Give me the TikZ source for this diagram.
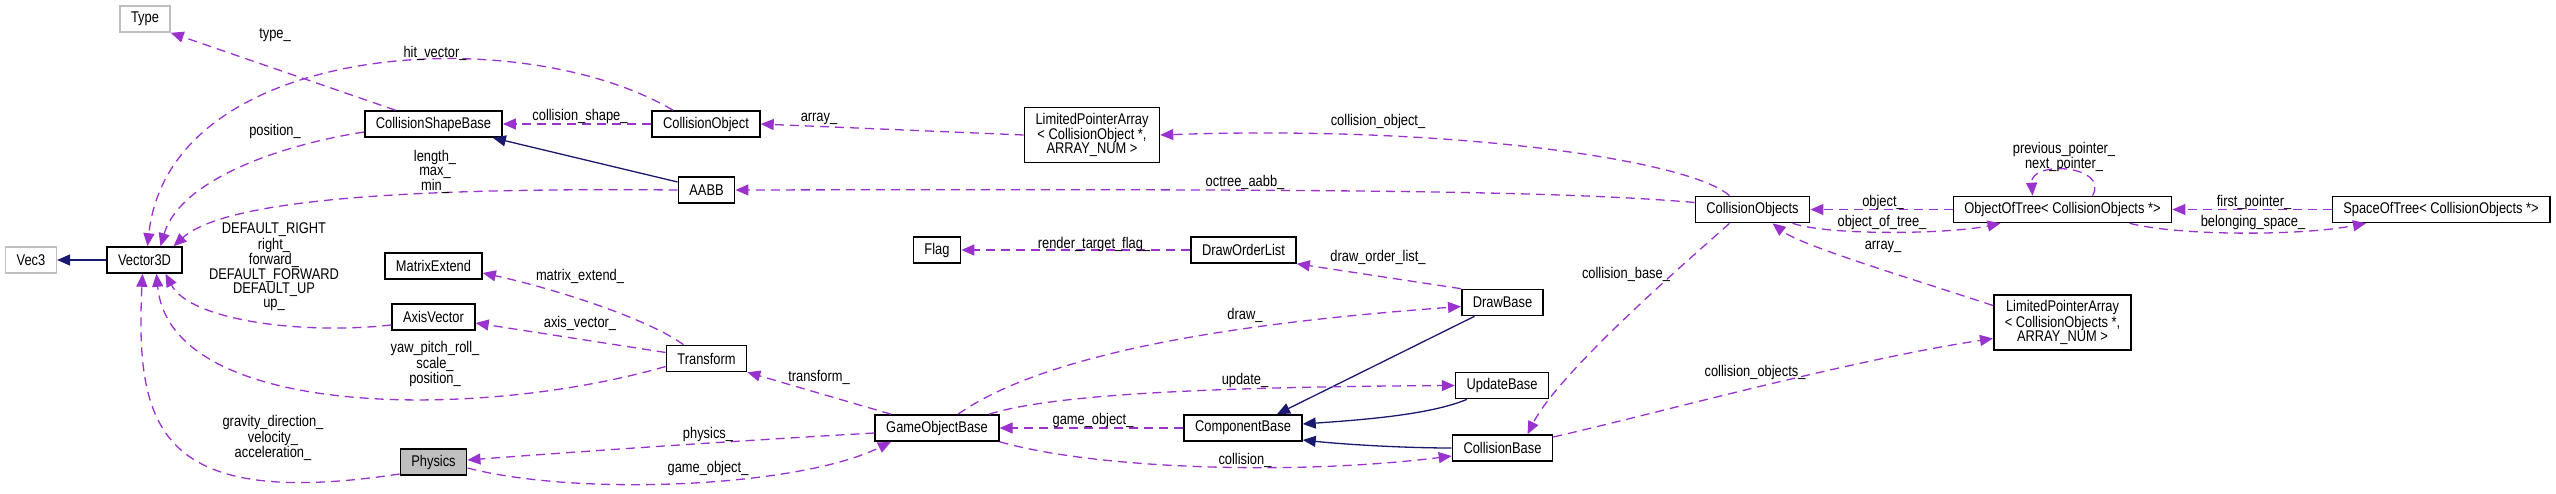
\documentclass[tikz,border=0pt]{standalone}
\usepackage{fontspec}
\setmainfont{Liberation Sans}[FakeStretch=0.83]
\usetikzlibrary{arrows.meta}
\definecolor{memberpurple}{HTML}{9A32CD}
\definecolor{inheritblue}{HTML}{191970}
\definecolor{extgrey}{HTML}{BFBFBF}

\begin{document}
\begin{tikzpicture}[x=1pt, y=-1pt,
    font=\fontsize{15.5}{14.3}\selectfont,
    cls/.style={rectangle, draw=black, line width=1.6pt, fill=white, inner xsep=11pt, inner ysep=2pt,
        minimum height=26pt, align=center},
    ext/.style={cls, draw=extgrey},
    tall/.style={cls, minimum height=55pt},
    member/.style={-{Triangle[length=13pt,width=11pt]}, line width=1.3pt, memberpurple, dash pattern=on 9pt off 6pt},
    inherit/.style={-{Triangle[length=13pt,width=11pt]}, line width=1.3pt, inheritblue},
    lbl/.style={inner sep=0pt, align=center}
]
    \useasboundingbox (0,0) rectangle (2556,494);

    \node[ext] (type) at (145,19) {Type};
    \node[ext] (vec3) at (31,260) {Vec3};
    \node[cls] (vec) at (144.5,260) {Vector3D};
    \node[cls] (csb) at (433.5,124) {CollisionShapeBase};
    \node[cls] (matrix) at (433.5,266) {MatrixExtend};
    \node[cls] (axis) at (433.5,317) {AxisVector};
    \node[cls, fill=extgrey] (physics) at (433.5,462) {Physics};
    \node[cls] (cobj) at (706,124) {CollisionObject};
    \node[cls] (aabb) at (706.5,190) {AABB};
    \node[cls] (transform) at (706.5,358.5) {Transform};
    \node[cls] (flag) at (937,250) {Flag};
    \node[cls] (gob) at (937,428) {GameObjectBase};
    \node[tall] (lpa) at (1092,135) {LimitedPointerArray\\< CollisionObject *,\\ARRAY\_NUM >};
    \node[cls] (dol) at (1243.5,250) {DrawOrderList};
    \node[cls] (comp) at (1243,428) {ComponentBase};
    \node[cls] (drawbase) at (1502.5,302.5) {DrawBase};
    \node[cls] (update) at (1502,385.5) {UpdateBase};
    \node[cls] (collbase) at (1502.5,448) {CollisionBase};
    \node[cls] (cobjs) at (1752.5,209.5) {CollisionObjects};
    \node[cls] (oot) at (2062.5,209.5) {ObjectOfTree< CollisionObjects *>};
    \node[tall] (lpa2) at (2062.5,322.5) {LimitedPointerArray\\< CollisionObjects *,\\ARRAY\_NUM >};
    \node[cls] (sot) at (2441,209.5) {SpaceOfTree< CollisionObjects *>};

    \draw[inherit] (vec.west) -- (vec3.east);
    \draw[inherit] ([yshift=8pt]aabb.west) -- ([xshift=-10pt]csb.south east);
    \draw[inherit] ([xshift=-28pt]drawbase.south) -- ([xshift=34pt]comp.north);
    \draw[inherit] ([xshift=-35pt]update.south) .. controls (1430,415) and (1360,420) .. ([yshift=4pt]comp.east);
    \draw[inherit] (collbase.west) .. controls (1400,448) and (1340,444) .. ([yshift=-12pt]comp.east);

    \draw[member] ([xshift=-38pt]csb.north) -- (type.south east);
    \draw[member] ([xshift=-33pt]cobj.north) .. controls (520,20) and (170,40) .. ([xshift=3pt]vec.north);
    \draw[member] ([yshift=-8pt]csb.west) .. controls (280,145) and (180,180) .. ([xshift=16pt]vec.north);
    \draw[member] (cobj.west) -- (csb.east);
    \draw[member] (aabb.west) .. controls (450,188) and (230,195) .. ([xshift=29pt]vec.north);
    \draw[member] (lpa.west) -- (cobj.east);
    \draw[member] ([xshift=-23pt]cobjs.north) .. controls (1690,160) and (1450,125) .. (lpa.east);
    \draw[member] ([yshift=7pt]cobjs.west) .. controls (1550,190) and (1300,189) .. (aabb.east);
    \draw[member] (oot.west) -- (cobjs.east);
    \draw[member] ([xshift=40pt]cobjs.south) .. controls (1830,236) and (1950,234) .. ([xshift=-62pt]oot.south);
    \draw[member] ([xshift=30pt]oot.north) .. controls (2110,165) and (2030,160) .. ([xshift=-30pt]oot.north);
    \draw[member] (sot.west) -- (oot.east);
    \draw[member] ([xshift=67pt]oot.south) .. controls (2180,236) and (2300,236) .. ([xshift=-75pt]sot.south);
    \draw[member] ([yshift=17pt]lpa2.west) .. controls (1900,275) and (1800,245) .. ([xshift=20pt]cobjs.south);
    \draw[member] ([xshift=-23pt]cobjs.south) .. controls (1700,250) and (1560,370) .. ([xshift=25pt]collbase.north);
    \draw[member] ([yshift=11pt]collbase.east) .. controls (1650,415) and (1850,360) .. ([yshift=-16pt]lpa2.west);
    \draw[member] (dol.west) -- (flag.east);
    \draw[member] (drawbase.north west) -- (dol.south east);
    \draw[member] ([xshift=21pt]gob.north) .. controls (1050,350) and (1250,322) .. ([yshift=-4pt]drawbase.west);
    \draw[member] ([xshift=52pt]gob.north) .. controls (1050,395) and (1200,387) .. (update.west);
    \draw[member] (comp.west) -- (gob.east);
    \draw[member] (gob.south east) .. controls (1100,470) and (1300,475) .. ([yshift=-8pt]collbase.west);
    \draw[member] ([xshift=-46pt]gob.north) -- (transform.south east);
    \draw[member] ([yshift=-5pt]gob.west) .. controls (750,440) and (600,450) .. ([yshift=2pt]physics.east);
    \draw[member] ([yshift=-6pt]physics.east) .. controls (580,497) and (800,487) .. ([xshift=-46pt]gob.south);
    \draw[member] ([yshift=-12pt]physics.west) .. controls (160,510) and (135,430) .. ([xshift=-2pt]vec.south);
    \draw[member] ([yshift=-8pt]transform.west) .. controls (480,420) and (170,420) .. ([xshift=12pt]vec.south);
    \draw[member] ([yshift=-8pt]axis.west) .. controls (300,335) and (190,320) .. ([xshift=21pt]vec.south);
    \draw[member] ([yshift=6pt]transform.west) -- ([yshift=-6pt]axis.east);
    \draw[member] ([xshift=-23pt]transform.north) .. controls (650,320) and (560,290) .. ([yshift=-7pt]matrix.east);

    \node[lbl] (l-type) at (275,35) {type\_};
    \node[lbl] (l-hit) at (435,53) {hit\_vector\_};
    \node[lbl] (l-pos) at (275,131) {position\_};
    \node[lbl] (l-cshape) at (580,116) {collision\_shape\_};
    \node[lbl] (l-aabb) at (435,172) {length\_\\max\_\\min\_};
    \node[lbl] (l-array) at (819,119) {array\_};
    \node[lbl] (l-cobj) at (1378,121) {collision\_object\_};
    \node[lbl] (l-octree) at (1245,182) {octree\_aabb\_};
    \node[lbl] (l-object) at (1883,202) {object\_};
    \node[lbl] (l-oot) at (1882,222) {object\_of\_tree\_};
    \node[lbl] (l-loop) at (2064,157) {previous\_pointer\_\\next\_pointer\_};
    \node[lbl] (l-first) at (2254,202) {first\_pointer\_};
    \node[lbl] (l-belong) at (2253,222) {belonging\_space\_};
    \node[lbl] (l-array2) at (1883,247) {array\_};
    \node[lbl] (l-cbase) at (1626,274) {collision\_base\_};
    \node[lbl] (l-cobjs) at (1755,372) {collision\_objects\_};
    \node[lbl] (l-flag) at (1094,244) {render\_target\_flag\_};
    \node[lbl] (l-dol) at (1378,257) {draw\_order\_list\_};
    \node[lbl] (l-draw) at (1245,315) {draw\_};
    \node[lbl] (l-update) at (1245,380) {update\_};
    \node[lbl] (l-gobj) at (1093,420) {game\_object\_};
    \node[lbl] (l-coll) at (1245,460) {collision\_};
    \node[lbl] (l-transform) at (819,377) {transform\_};
    \node[lbl] (l-physics) at (708,434) {physics\_};
    \node[lbl] (l-gobj2) at (708,468) {game\_object\_};
    \node[lbl] (l-grav) at (273,438) {gravity\_direction\_\\velocity\_\\acceleration\_};
    \node[lbl] (l-yaw) at (435,364) {yaw\_pitch\_roll\_\\scale\_\\position\_};
    \node[lbl] (l-axisv) at (274,267) {DEFAULT\_RIGHT\\right\_\\forward\_\\DEFAULT\_FORWARD\\DEFAULT\_UP\\up\_};
    \node[lbl] (l-axis) at (580,323) {axis\_vector\_};
    \node[lbl] (l-matrix) at (580,276) {matrix\_extend\_};
\end{tikzpicture}
\end{document}
